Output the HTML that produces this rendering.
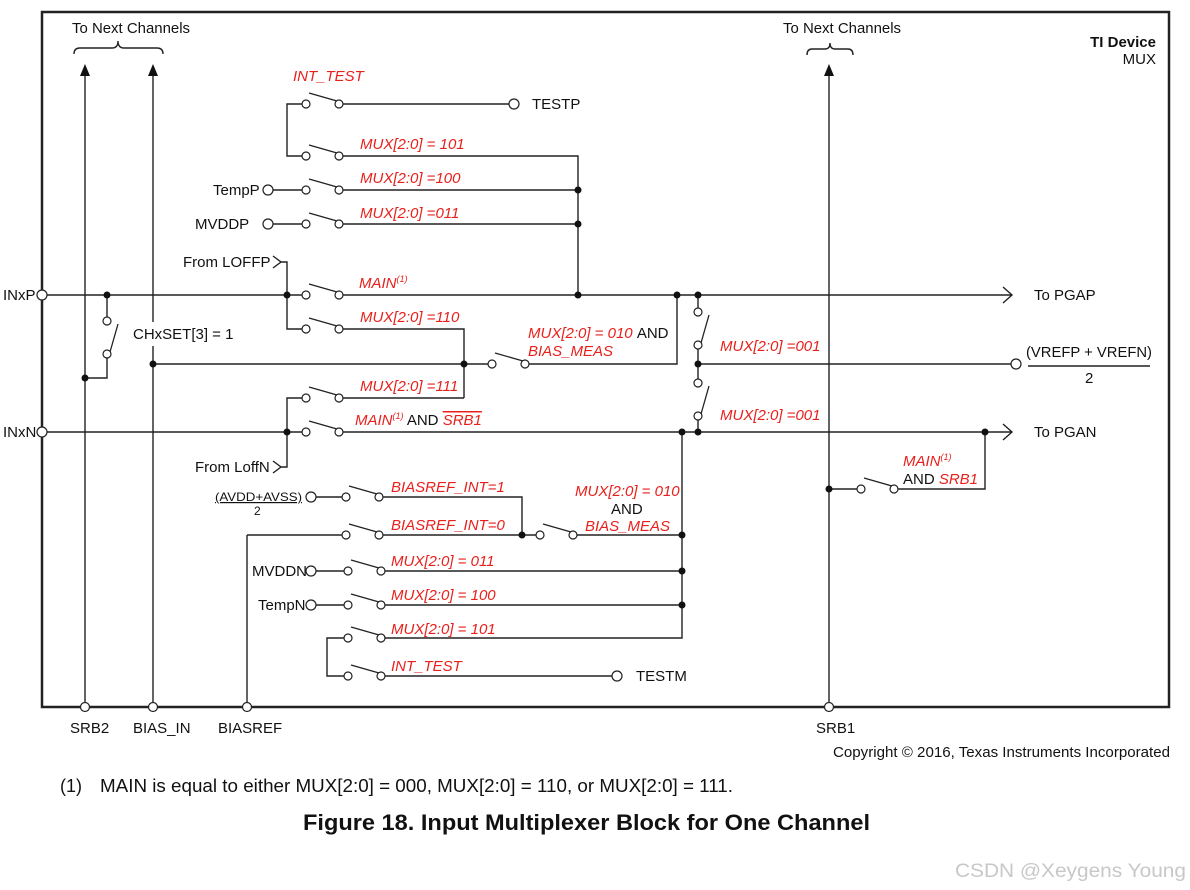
<!DOCTYPE html>
<html><head><meta charset="utf-8"><style>
html,body{margin:0;padding:0;background:#fff;}
svg{display:block;font-family:"Liberation Sans",Arial,sans-serif;}
.w{stroke:#222;stroke-width:1.4;fill:none;}
.r{fill:#e8201c;font-style:italic;font-size:15px;}
.b{fill:#111;font-size:15px;}
</style></head><body>
<svg width="1190" height="890" viewBox="0 0 1190 890" xmlns="http://www.w3.org/2000/svg">
<defs>
<g id="sw"><line x1="3" y1="-11" x2="31" y2="-3" stroke="#222" stroke-width="1.3"/><circle cx="0" cy="0" r="4" fill="#fff" stroke="#222" stroke-width="1.2"/><circle cx="33" cy="0" r="4" fill="#fff" stroke="#222" stroke-width="1.2"/></g>
<g id="vs"><line x1="11" y1="3" x2="3" y2="31" stroke="#222" stroke-width="1.3"/><circle cx="0" cy="0" r="4" fill="#fff" stroke="#222" stroke-width="1.2"/><circle cx="0" cy="33" r="4" fill="#fff" stroke="#222" stroke-width="1.2"/></g>
</defs>
<rect x="42" y="12" width="1127" height="695" fill="none" stroke="#222" stroke-width="2.5"/>
<path class="w" d="M74,54 Q74,48 80,48 L112,48 Q118,48 118,41 Q118,48 124,48 L157,48 Q163,48 163,54"/>
<path class="w" d="M807,55 Q807,49 812,49 L825,49 Q830,49 830,43 Q830,49 835,49 L848,49 Q853,49 853,55"/>
<text class="b" x="72" y="33" textLength="118" lengthAdjust="spacingAndGlyphs">To Next Channels</text>
<text class="b" x="783" y="33" textLength="118" lengthAdjust="spacingAndGlyphs">To Next Channels</text>
<text class="b" x="1156" y="47" text-anchor="end" font-weight="bold">TI Device</text>
<text class="b" x="1156" y="64" text-anchor="end">MUX</text>
<path class="w" d="M85,74 V703 M153,74 V322 M153,346 V703 M247,535 V703 M829,74 V703"/>
<polygon points="85,64 80,76 90,76" fill="#111"/>
<polygon points="153,64 148,76 158,76" fill="#111"/>
<polygon points="829,64 824,76 834,76" fill="#111"/>
<path class="w" d="M302,104 H287 V156 H302 M339,104 H509 M339,156 H578 V295 M272,190 H302 M339,190 H578 M272,224 H302 M339,224 H578"/>
<path class="w" d="M46,295 H302 M339,295 H1012 M1003,287 L1012,295 L1003,303"/>
<path class="w" d="M273,256 L281,262 L273,268 M281,262 H287 V329 H302 M339,329 H464 V398 M339,398 H464"/>
<path class="w" d="M107,295 V317 M107,357 V378 H85"/>
<path class="w" d="M153,364 H488 M529,364 H677 V295"/>
<path class="w" d="M698,295 V308 M698,349 V379 M698,420 V432 M698,364 H1012"/>
<path class="w" d="M302,398 H287 V467 H281 M273,461 L281,467 L273,473"/>
<path class="w" d="M46,432 H302 M339,432 H1012 M1003,424 L1012,432 L1003,440"/>
<path class="w" d="M829,489 H857 M898,489 H985 V432"/>
<path class="w" d="M682,432 V638 H383"/>
<path class="w" d="M316,497 H342 M383,497 H522 V535 M247,535 H342 M383,535 H536 M577,535 H682"/>
<path class="w" d="M316,571 H344 M385,571 H682 M316,605 H344 M385,605 H682"/>
<path class="w" d="M344,638 H327 V676 H344 M385,676 H612"/>
<path class="w" d="M1028,366 H1150"/>
<use href="#sw" x="306" y="104"/><use href="#sw" x="306" y="156"/><use href="#sw" x="306" y="190"/><use href="#sw" x="306" y="224"/>
<use href="#sw" x="306" y="295"/><use href="#sw" x="306" y="329"/><use href="#sw" x="306" y="398"/><use href="#sw" x="306" y="432"/>
<use href="#sw" x="492" y="364"/><use href="#sw" x="861" y="489"/>
<use href="#sw" x="346" y="497"/><use href="#sw" x="346" y="535"/><use href="#sw" x="540" y="535"/>
<use href="#sw" x="348" y="571"/><use href="#sw" x="348" y="605"/><use href="#sw" x="348" y="638"/><use href="#sw" x="348" y="676"/>
<use href="#vs" x="107" y="321"/><use href="#vs" x="698" y="312"/><use href="#vs" x="698" y="383"/>
<g fill="#fff" stroke="#222" stroke-width="1.2">
<circle cx="514" cy="104" r="5"/><circle cx="268" cy="190" r="5"/><circle cx="268" cy="224" r="5"/>
<circle cx="42" cy="295" r="5"/><circle cx="42" cy="432" r="5"/><circle cx="1016" cy="364" r="5"/>
<circle cx="311" cy="497" r="5"/><circle cx="311" cy="571" r="5"/><circle cx="311" cy="605" r="5"/><circle cx="617" cy="676" r="5"/>
<circle cx="85" cy="707" r="4.5"/><circle cx="153" cy="707" r="4.5"/><circle cx="247" cy="707" r="4.5"/><circle cx="829" cy="707" r="4.5"/>
</g>
<g fill="#111">
<circle cx="578" cy="190" r="3.5"/><circle cx="578" cy="224" r="3.5"/><circle cx="578" cy="295" r="3.5"/><circle cx="677" cy="295" r="3.5"/><circle cx="698" cy="295" r="3.5"/>
<circle cx="107" cy="295" r="3.5"/><circle cx="287" cy="295" r="3.5"/><circle cx="85" cy="378" r="3.5"/><circle cx="153" cy="364" r="3.5"/><circle cx="464" cy="364" r="3.5"/>
<circle cx="698" cy="364" r="3.5"/><circle cx="287" cy="432" r="3.5"/><circle cx="682" cy="432" r="3.5"/><circle cx="698" cy="432" r="3.5"/><circle cx="985" cy="432" r="3.5"/>
<circle cx="829" cy="489" r="3.5"/><circle cx="522" cy="535" r="3.5"/><circle cx="682" cy="535" r="3.5"/><circle cx="682" cy="571" r="3.5"/><circle cx="682" cy="605" r="3.5"/>
</g>
<text class="b" x="532" y="109">TESTP</text>
<text class="b" x="213" y="195">TempP</text>
<text class="b" x="195" y="229">MVDDP</text>
<text class="b" x="183" y="267">From LOFFP</text>
<text class="b" x="3" y="300">INxP</text>
<text class="b" x="3" y="437">INxN</text>
<text class="b" x="133" y="339">CHxSET[3] = 1</text>
<text class="b" x="195" y="472">From LoffN</text>
<text class="b" x="1034" y="300">To PGAP</text>
<text class="b" x="1034" y="437">To PGAN</text>
<text class="b" x="1026" y="357" textLength="126" lengthAdjust="spacingAndGlyphs">(VREFP + VREFN)</text>
<text class="b" x="1085" y="383">2</text>
<text x="215" y="501" font-size="12" fill="#111" text-decoration="underline" textLength="87" lengthAdjust="spacingAndGlyphs">(AVDD+AVSS)</text>
<text x="254" y="515" font-size="12" fill="#111">2</text>
<text class="b" x="252" y="576">MVDDN</text>
<text class="b" x="258" y="610">TempN</text>
<text class="b" x="636" y="681">TESTM</text>
<text class="r" x="293" y="81">INT_TEST</text>
<text class="r" x="360" y="149">MUX[2:0] = 101</text>
<text class="r" x="360" y="183">MUX[2:0] =100</text>
<text class="r" x="360" y="218">MUX[2:0] =011</text>
<text class="r" x="359" y="288">MAIN<tspan font-size="9" dy="-6">(1)</tspan></text>
<text class="r" x="360" y="322">MUX[2:0] =110</text>
<text class="r" x="528" y="338">MUX[2:0] = 010 <tspan fill="#111" font-style="normal">AND</tspan></text>
<text class="r" x="528" y="356">BIAS_MEAS</text>
<text class="r" x="360" y="391">MUX[2:0] =111</text>
<text class="r" x="355" y="425">MAIN<tspan font-size="9" dy="-6">(1)</tspan><tspan dy="6" fill="#111" font-style="normal"> AND </tspan><tspan text-decoration="overline">SRB1</tspan></text>
<text class="r" x="720" y="351">MUX[2:0] =001</text>
<text class="r" x="720" y="420">MUX[2:0] =001</text>
<text class="r" x="903" y="466">MAIN<tspan font-size="9" dy="-6">(1)</tspan></text>
<text class="r" x="903" y="484"><tspan fill="#111" font-style="normal">AND </tspan>SRB1</text>
<text class="r" x="391" y="492">BIASREF_INT=1</text>
<text class="r" x="391" y="530">BIASREF_INT=0</text>
<text class="r" x="575" y="496">MUX[2:0] = 010</text>
<text class="b" x="611" y="514">AND</text>
<text class="r" x="585" y="531">BIAS_MEAS</text>
<text class="r" x="391" y="566">MUX[2:0] = 011</text>
<text class="r" x="391" y="600">MUX[2:0] = 100</text>
<text class="r" x="391" y="634">MUX[2:0] = 101</text>
<text class="r" x="391" y="671">INT_TEST</text>
<text class="b" x="70" y="733">SRB2</text>
<text class="b" x="133" y="733">BIAS_IN</text>
<text class="b" x="218" y="733">BIASREF</text>
<text class="b" x="816" y="733">SRB1</text>
<text class="b" x="833" y="757" textLength="337" lengthAdjust="spacingAndGlyphs">Copyright © 2016, Texas Instruments Incorporated</text>
<text x="60" y="792" font-size="18" fill="#111">(1)</text>
<text x="100" y="792" font-size="18" fill="#111" textLength="633" lengthAdjust="spacingAndGlyphs">MAIN is equal to either MUX[2:0] = 000, MUX[2:0] = 110, or MUX[2:0] = 111.</text>
<text x="303" y="830" font-size="22" font-weight="bold" fill="#111" textLength="567" lengthAdjust="spacingAndGlyphs">Figure 18.  Input Multiplexer Block for One Channel</text>
<text x="955" y="877" font-size="19" fill="#c8c8c8" textLength="231" lengthAdjust="spacingAndGlyphs">CSDN @Xeygens Young</text>
</svg>
</body></html>
